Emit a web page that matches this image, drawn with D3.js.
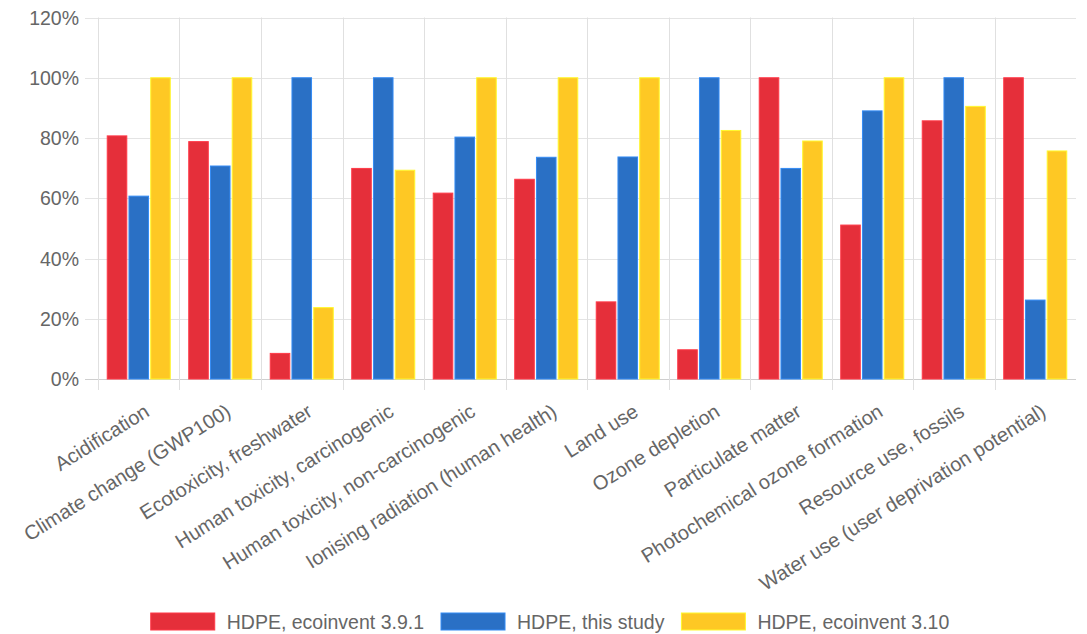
<!DOCTYPE html>
<html>
<head>
<meta charset="utf-8">
<script src="https://cdn.jsdelivr.net/npm/d3@7"></script>
<style>
  html, body { margin: 0; padding: 0; background: #fff; }
  svg { display: block; }
  text { font-family: "Liberation Sans", Arial, Helvetica, sans-serif; fill: #666; }
</style>
</head>
<body>
<svg id="chart" width="1087" height="634"></svg>
<script>
const categories = [
  "Acidification",
  "Climate change (GWP100)",
  "Ecotoxicity, freshwater",
  "Human toxicity, carcinogenic",
  "Human toxicity, non-carcinogenic",
  "Ionising radiation (human health)",
  "Land use",
  "Ozone depletion",
  "Particulate matter",
  "Photochemical ozone formation",
  "Resource use, fossils",
  "Water use (user deprivation potential)"
];
const seriesNames = ["HDPE, ecoinvent 3.9.1", "HDPE, this study", "HDPE, ecoinvent 3.10"];
const seriesColors = ["#e52f3a", "#2a70c5", "#fec824"];
const ecoinvent391 = [80.7, 78.8, 8.5, 69.9, 61.7, 66.3, 25.6, 9.7, 100, 51.1, 85.7, 100];
const thisStudy    = [60.7, 70.7, 100, 100, 80.3, 73.6, 73.7, 100, 69.9, 89.0, 100, 26.2];
const ecoinvent310 = [100, 100, 23.7, 69.3, 100, 100, 100, 82.5, 79.0, 100, 90.5, 75.7];
const yTicks = [0, 20, 40, 60, 80, 100, 120];

(function () {
const seriesValues = [ecoinvent391, thisStudy, ecoinvent310];

const svg = d3.select("#chart");
const pLeft = 98, pRight = 1076, pTop = 17.5, pBottom = 379;

const x0 = d3.scaleBand().domain(categories).range([pLeft, pRight]).paddingInner(0.2).paddingOuter(0.1);
const x1 = d3.scaleBand().domain(seriesNames).range([0, x0.bandwidth()]).paddingInner(0.1).paddingOuter(0.05);
const y = d3.scaleLinear().domain([0, 120]).range([pBottom, pTop]);
const step = x0.step();

// horizontal grid
const gy = svg.append("g");
gy.selectAll("line").data(yTicks).join("line")
  .attr("x1", pLeft - 13).attr("x2", pRight)
  .attr("y1", d => Math.round(y(d)) + 0.5).attr("y2", d => Math.round(y(d)) + 0.5)
  .attr("stroke", d => d === 0 ? "#cfcfcf" : "#e4e4e4").attr("stroke-width", 1);
gy.selectAll("text").data(yTicks).join("text")
  .attr("x", pLeft - 19).attr("y", d => y(d)).attr("dy", "0.36em")
  .attr("text-anchor", "end").style("font-size", "19.5px")
  .text(d => d + "%");

// vertical grid (category boundaries)
const bounds = categories.map(c => x0(c) - (step - x0.bandwidth()) / 2);
svg.append("g").selectAll("line").data(bounds).join("line")
  .attr("x1", d => Math.round(d) + 0.5).attr("x2", d => Math.round(d) + 0.5)
  .attr("y1", pTop).attr("y2", pBottom + 11)
  .attr("stroke", "#e0e0e0").attr("stroke-width", 1);

// bars
const groups = svg.append("g").selectAll("g").data(categories).join("g")
  .attr("transform", d => `translate(${x0(d)},0)`);
groups.selectAll("rect")
  .data((d, i) => seriesNames.map((s, k) => ({ s, k, v: seriesValues[k][i] })))
  .join("rect")
  .attr("x", d => x1(d.s))
  .attr("width", x1.bandwidth())
  .attr("y", d => y(d.v))
  .attr("height", d => y(0) - y(d.v))
  .attr("fill", d => seriesColors[d.k])
  .attr("stroke", d => d3.color(seriesColors[d.k]).brighter(0.6))
  .attr("stroke-width", 1);

// x labels
svg.append("g").selectAll("text").data(categories).join("text")
  .attr("transform", d => `translate(${x0(d) + x0.bandwidth() / 2 + 12},${pBottom + 36}) rotate(-32)`)
  .attr("text-anchor", "end").style("font-size", "20px")
  .text(d => d);

// legend
const legend = svg.append("g");
const boxW = 64, boxH = 17, gapText = 12, gapItem = 17;
const items = [];
seriesNames.forEach((name, k) => {
  const g = legend.append("g");
  g.append("rect").attr("x", 0).attr("y", 613).attr("width", boxW).attr("height", boxH)
    .attr("fill", seriesColors[k])
    .attr("stroke", d3.color(seriesColors[k]).brighter(0.6)).attr("stroke-width", 1);
  const t = g.append("text").attr("x", boxW + gapText).attr("y", 628.5)
    .style("font-size", "19.5px").text(name);
  const w = t.node().getComputedTextLength();
  items.push({ g, w });
});
let total = 0;
items.forEach((it, i) => { total += boxW + gapText + it.w + (i < items.length - 1 ? gapItem : 0); });
let xpos = 550 - total / 2;
items.forEach(it => {
  it.g.attr("transform", `translate(${xpos},0)`);
  xpos += boxW + gapText + it.w + gapItem;
});
})();
</script>
</body>
</html>
